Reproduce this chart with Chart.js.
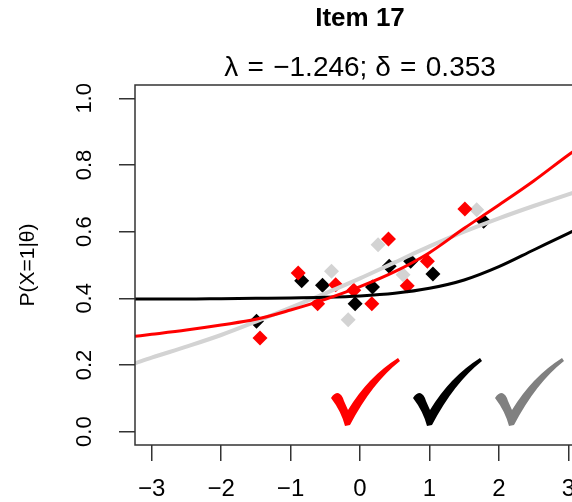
<!DOCTYPE html>
<html>
<head>
<meta charset="utf-8">
<script src="https://cdn.jsdelivr.net/npm/chart.js@4.4.1/dist/chart.umd.min.js"></script>
<style>
    html, body { margin: 0; padding: 0; background: #fff; overflow: hidden; }
    #wrap { width: 572px; height: 502px; overflow: hidden; }
    canvas { display: block; }
</style>
</head>
<body>
<div id="wrap"><canvas id="itemChart" width="600" height="502"></canvas></div>
<script>
// item characteristic curves
const thetaGrid = [-3.24, -3, -2.5, -2, -1.5, -1, -0.5, 0, 0.5, 1, 1.5, 2, 2.5, 3, 3.24];
const curveBlack = [0.398, 0.398, 0.398, 0.399, 0.400, 0.401, 0.403, 0.407, 0.415, 0.430, 0.455, 0.495, 0.545, 0.595, 0.62];
const curveRed = [0.286, 0.292, 0.305, 0.320, 0.337, 0.365, 0.397, 0.435, 0.480, 0.537, 0.610, 0.680, 0.752, 0.830, 0.865];
const curveGray = [0.205, 0.222, 0.255, 0.290, 0.330, 0.372, 0.415, 0.460, 0.508, 0.556, 0.600, 0.640, 0.677, 0.712, 0.728];

// observed proportions per score group
const blackTheta = [-1.49, -0.84, -0.54, -0.07, 0.18, 0.42, 0.73, 1.05, 1.78];
const blackProp = [0.331, 0.453, 0.439, 0.384, 0.434, 0.496, 0.511, 0.473, 0.631];
const redTheta = [-1.44, -0.89, -0.61, -0.35, -0.09, 0.17, 0.41, 0.68, 0.97, 1.51];
const redProp = [0.281, 0.476, 0.384, 0.441, 0.424, 0.384, 0.578, 0.438, 0.511, 0.668];
const grayTheta = [-0.41, -0.17, 0.26, 0.62, 1.68];
const grayProp = [0.481, 0.336, 0.561, 0.471, 0.666];

const xTicks = [-3, -2, -1, 0, 1, 2, 3];
const yTicks = [0, 0.2, 0.4, 0.6, 0.8, 1.0];
const titleText = 'Item 17';
const subtitleText = 'λ\u2004=\u2004−1.246; δ\u2004=\u20040.353';
const yAxisTitle = 'P(X=1|θ)';

const RED = '#FF0000';
const BLACK = '#000000';
const LIGHT = '#D3D3D3';
const FONT = '"Liberation Sans", Arial, sans-serif';

const toXY = (xs, ys) => xs.map((v, i) => ({ x: v, y: ys[i] }));

function curveSet(values, color, width, order) {
    return {
        type: 'line',
        data: toXY(thetaGrid, values),
        borderColor: color,
        borderWidth: width,
        pointRadius: 0,
        cubicInterpolationMode: 'monotone',
        fill: false,
        order: order
    };
}

function pointSet(xs, ys, color, order) {
    return {
        type: 'scatter',
        data: toXY(xs, ys),
        backgroundColor: color,
        borderWidth: 0,
        pointStyle: 'rectRot',
        pointRadius: 7.5,
        showLine: false,
        order: order
    };
}

// hand-drawn style tick mark, about 69 x 68
function drawCheck(ctx, x0, y0, color) {
    ctx.save();
    ctx.translate(x0, y0);
    ctx.fillStyle = color;
    ctx.beginPath();
    ctx.moveTo(0, 40);
    ctx.quadraticCurveTo(3, 35, 7, 35);
    ctx.quadraticCurveTo(11, 36, 13, 43);
    ctx.lineTo(17, 52);
    ctx.quadraticCurveTo(37, 19, 67, 0);
    ctx.lineTo(69, 3);
    ctx.quadraticCurveTo(41, 25, 19, 67);
    ctx.lineTo(14, 68);
    ctx.quadraticCurveTo(10, 53, 0, 40);
    ctx.closePath();
    ctx.fill();
    ctx.restore();
}

const decorPlugin = {
    id: 'decor',
    afterDraw(chart) {
        const { ctx, chartArea: a, scales } = chart;
        const y = scales.y;
        const cx = (a.left + a.right) / 2;
        ctx.save();

        // plot box
        ctx.strokeStyle = '#333';
        ctx.lineWidth = 1.5;
        ctx.strokeRect(a.left, a.top, a.right - a.left, a.bottom - a.top);

        // y tick labels, rotated like base R
        ctx.fillStyle = '#000';
        ctx.font = '22px ' + FONT;
        ctx.textAlign = 'center';
        ctx.textBaseline = 'middle';
        yTicks.forEach(v => {
            ctx.save();
            ctx.translate(a.left - 50, y.getPixelForValue(v));
            ctx.rotate(-Math.PI / 2);
            ctx.fillText(v.toFixed(1), 0, 0);
            ctx.restore();
        });

        // y axis title
        ctx.font = '21px ' + FONT;
        ctx.save();
        ctx.translate(28, (a.top + a.bottom) / 2);
        ctx.rotate(-Math.PI / 2);
        ctx.fillText(yAxisTitle, 0, 0);
        ctx.restore();

        // titles
        ctx.font = 'bold 26px ' + FONT;
        ctx.fillText(titleText, cx, 19);
        ctx.font = '28px ' + FONT;
        ctx.fillText(subtitleText, cx, 68);

        // check marks
        drawCheck(ctx, 331, 358, RED);
        drawCheck(ctx, 413, 358, BLACK);
        drawCheck(ctx, 495, 358, '#808080');

        ctx.restore();
    }
};

new Chart(document.getElementById('itemChart'), {
    data: {
        datasets: [
            curveSet(curveRed, RED, 3, 1),
            curveSet(curveBlack, BLACK, 3, 2),
            curveSet(curveGray, LIGHT, 4, 3),
            pointSet(redTheta, redProp, RED, 4),
            pointSet(blackTheta, blackProp, BLACK, 5),
            pointSet(grayTheta, grayProp, LIGHT, 6)
        ]
    },
    options: {
        responsive: false,
        animation: false,
        layout: { padding: { top: 85, right: 15, left: 0, bottom: 0 } },
        plugins: {
            legend: { display: false },
            tooltip: { enabled: false }
        },
        scales: {
            x: {
                type: 'linear',
                min: -3.24,
                max: 3.24,
                afterBuildTicks: s => { s.ticks = xTicks.map(v => ({ value: v })); },
                afterFit: s => { s.height = 57; },
                ticks: {
                    color: '#000',
                    font: { size: 24, family: FONT },
                    padding: 14,
                    maxRotation: 0,
                    callback: v => (v < 0 ? '−' + Math.abs(v) : String(v))
                },
                grid: { drawOnChartArea: false, drawTicks: true, tickLength: 16, color: '#333', lineWidth: 1.5 },
                border: { display: false }
            },
            y: {
                type: 'linear',
                min: -0.04,
                max: 1.04,
                afterBuildTicks: s => { s.ticks = yTicks.map(v => ({ value: v })); },
                afterFit: s => { s.width = 135; },
                ticks: { display: false },
                grid: { drawOnChartArea: false, drawTicks: true, tickLength: 16, color: '#333', lineWidth: 1.5 },
                border: { display: false }
            }
        }
    },
    plugins: [decorPlugin]
});
</script>
</body>
</html>
